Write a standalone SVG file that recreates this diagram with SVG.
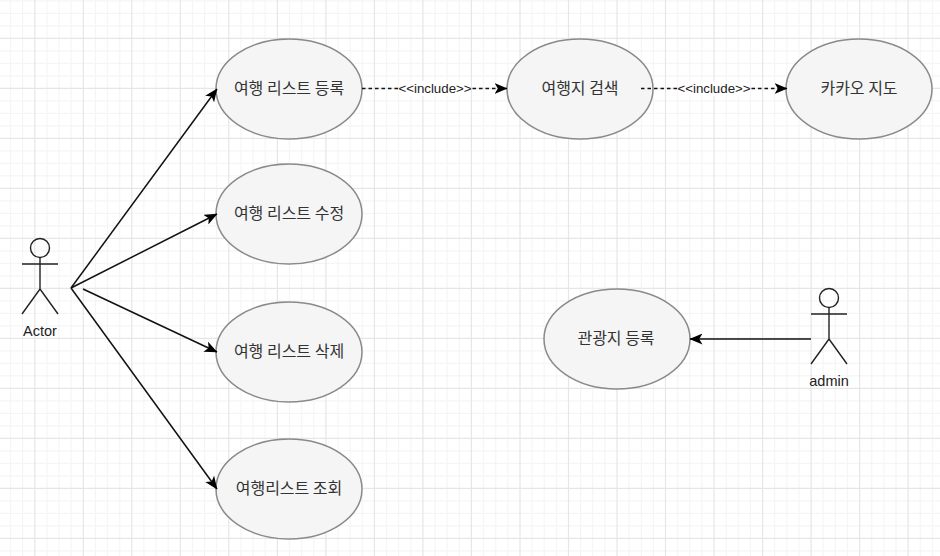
<svg xmlns="http://www.w3.org/2000/svg" width="940" height="556" viewBox="0 0 940 556">
<defs>
<marker id="arrow" markerUnits="userSpaceOnUse" viewBox="0 0 13 11" refX="12.5" refY="5.500" markerWidth="13" markerHeight="11" orient="auto"><path d="M0 0L13 5.500L0 11L3.300 5.500Z" fill="#000"/></marker>
</defs>
<style>
.uc{fill:#f5f5f5;stroke:#8a8a8a;stroke-width:1.5}
.lbl{font-family:"Noto Sans CJK KR","Liberation Sans",sans-serif;font-size:16px;fill:#333;text-anchor:middle}
.act{font-family:"Liberation Sans",sans-serif;font-size:14.500px;fill:#222;text-anchor:middle}
.inc{font-family:"Liberation Sans",sans-serif;font-size:13.300px;fill:#222;text-anchor:middle}
.fig{fill:none;stroke:#222;stroke-width:1.4}
.line{fill:none;stroke:#111;stroke-width:1.5;marker-end:url(#arrow)}
.dash{stroke-dasharray:3.500 3}
.lblbg{fill:#fff}
.gmin{fill:none;stroke:#f5f5f5;stroke-width:1.2}
.gmaj{fill:none;stroke:#e6e6e6;stroke-width:1.2}
</style>
<rect width="940" height="556" fill="#fff"/>
<g id="grid">
<path class="gmin" d="M10.500 0V556M22.600 0V556M46.900 0V556M59 0V556M71.200 0V556M95.400 0V556M107.500 0V556M119.700 0V556M143.900 0V556M156.100 0V556M168.200 0V556M192.500 0V556M204.600 0V556M216.700 0V556M241 0V556M253.100 0V556M265.200 0V556M289.500 0V556M301.600 0V556M313.800 0V556M338 0V556M350.100 0V556M362.300 0V556M386.500 0V556M398.700 0V556M410.800 0V556M435.100 0V556M447.200 0V556M459.300 0V556M483.600 0V556M495.700 0V556M507.800 0V556M532.100 0V556M544.200 0V556M556.400 0V556M580.600 0V556M592.700 0V556M604.900 0V556M629.100 0V556M641.300 0V556M653.400 0V556M677.700 0V556M689.800 0V556M701.900 0V556M726.200 0V556M738.300 0V556M750.400 0V556M774.700 0V556M786.800 0V556M799 0V556M823.200 0V556M835.300 0V556M847.500 0V556M871.700 0V556M883.900 0V556M896 0V556M920.300 0V556M932.400 0V556M0 0.800H940M0 13.300H940M0 25.800H940M0 50.800H940M0 63.300H940M0 75.800H940M0 100.800H940M0 113.300H940M0 125.800H940M0 150.800H940M0 163.300H940M0 175.800H940M0 200.800H940M0 213.300H940M0 225.800H940M0 250.800H940M0 263.300H940M0 275.800H940M0 300.800H940M0 313.300H940M0 325.800H940M0 350.800H940M0 363.300H940M0 375.800H940M0 400.800H940M0 413.300H940M0 425.800H940M0 450.800H940M0 463.300H940M0 475.800H940M0 500.800H940M0 513.300H940M0 525.800H940M0 550.800H940"/>
<path class="gmaj" d="M34.800 0V556M83.300 0V556M131.800 0V556M180.300 0V556M228.800 0V556M277.400 0V556M325.900 0V556M374.400 0V556M422.900 0V556M471.400 0V556M520 0V556M568.500 0V556M617 0V556M665.500 0V556M714 0V556M762.600 0V556M811.100 0V556M859.600 0V556M908.100 0V556M0 38.300H940M0 88.300H940M0 138.300H940M0 188.300H940M0 238.300H940M0 288.300H940M0 338.300H940M0 388.300H940M0 438.300H940M0 488.300H940M0 538.300H940"/>
</g>
<g id="actor"><circle class="fig" cx="40" cy="248" r="9.500"/><path class="fig" d="M40 257.500V289M22 264H58M22 314L40 289L58 314"/><text class="act" x="40" y="336">Actor</text></g>
<g id="admin"><circle class="fig" cx="829" cy="298" r="9.500"/><path class="fig" d="M829 307.500V339M811 314H847M811 364L829 339L847 364"/><text class="act" x="829" y="386">admin</text></g>
<g id="uc1"><ellipse class="uc" cx="289" cy="89" rx="73" ry="50"/><text class="lbl" x="289" y="94">여행 리스트 등록</text></g>
<g id="uc2"><ellipse class="uc" cx="289" cy="214" rx="73" ry="50"/><text class="lbl" x="289" y="219">여행 리스트 수정</text></g>
<g id="uc3"><ellipse class="uc" cx="289" cy="352" rx="73" ry="50"/><text class="lbl" x="289" y="357">여행 리스트 삭제</text></g>
<g id="uc4"><ellipse class="uc" cx="289" cy="489" rx="73" ry="50"/><text class="lbl" x="289" y="494">여행리스트 조회</text></g>
<g id="uc5"><ellipse class="uc" cx="580" cy="89" rx="73" ry="50"/><text class="lbl" x="580" y="94">여행지 검색</text></g>
<g id="uc6"><ellipse class="uc" cx="859" cy="89" rx="73" ry="50"/><text class="lbl" x="859" y="94">카카오 지도</text></g>
<g id="uc7"><ellipse class="uc" cx="617" cy="339" rx="73" ry="50"/><text class="lbl" x="616" y="344">관광지 등록</text></g>
<g id="connectors">
<path class="line" d="M71 288L217 89"/>
<path class="line" d="M71 288L217 214"/>
<path class="line" d="M83 289L217 352"/>
<path class="line" d="M71 288L217 489"/>
<path class="line dash" d="M362 88.500L507 88.500"/>
<path class="line dash" d="M641 88.500L787 88.500"/>
<path class="line" d="M811 339L690 339"/>
<rect class="lblbg" x="399" y="81" width="72" height="15"/>
<text class="inc" x="435" y="93">&lt;&lt;include&gt;&gt;</text>
<rect class="lblbg" x="678" y="81" width="72" height="15"/>
<text class="inc" x="714" y="93">&lt;&lt;include&gt;&gt;</text>
</g>
</svg>
